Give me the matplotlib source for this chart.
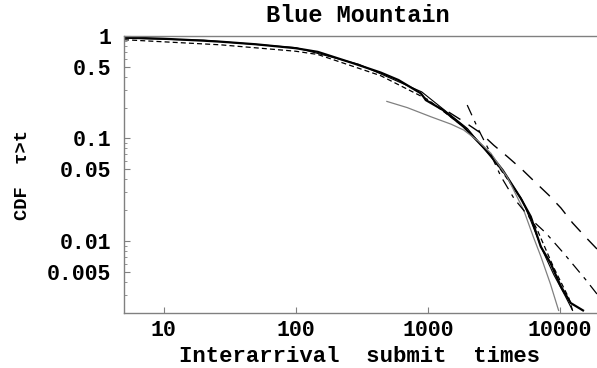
import matplotlib
matplotlib.use("Agg")
import matplotlib.pyplot as plt
from matplotlib.ticker import FixedLocator, NullFormatter

emp_solid_x = [5, 10, 20, 27, 50, 100, 147, 275, 440, 600, 885, 940, 966, 1300,
               1870, 3000, 3700, 5070, 6030, 7180, 8500, 10200, 12100, 15000]
emp_solid_y = [0.97, 0.94, 0.90, 0.88, 0.83, 0.76, 0.70, 0.54, 0.44, 0.372, 0.276,
               0.25, 0.237, 0.19, 0.13, 0.069, 0.049, 0.026, 0.0173, 0.0088, 0.0061,
               0.0036, 0.00248, 0.0021]

emp_dash_x = [5, 27, 100, 147, 440, 1000, 2000, 3000, 5000, 6760, 9000, 11700, 12500]
emp_dash_y = [0.92, 0.82, 0.71, 0.66, 0.41, 0.24, 0.122, 0.068, 0.027, 0.0128,
              0.0055, 0.00278, 0.0021]

emp_thin_x = [5, 20, 100, 300, 900, 2000, 4000, 5200, 6000, 7500, 9000, 11000, 12500]
emp_thin_y = [0.95, 0.91, 0.77, 0.53, 0.285, 0.125, 0.042, 0.025, 0.016, 0.0078,
              0.0047, 0.0029, 0.0021]

# fitted curves
fit_gray_x = [490, 700, 1055, 1500, 1870, 2400, 3000, 4000, 5330, 6300, 7180, 8500, 9800]
fit_gray_y = [0.23, 0.20, 0.163, 0.138, 0.121, 0.095, 0.072, 0.042, 0.020, 0.011,
              0.0071, 0.0038, 0.0021]

fit_long_x = [1440, 1940, 2520, 3160, 4040, 5250, 6580, 8260, 10200, 12500, 15700, 19400]
fit_long_y = [0.181, 0.142, 0.113, 0.086, 0.066, 0.049, 0.037, 0.028, 0.021, 0.015,
              0.0109, 0.0082]

fit_dd_x = [1990, 2400, 2850, 3570, 4500, 6000, 7830, 10700, 15700, 19400]
fit_dd_y = [0.212, 0.125, 0.081, 0.043, 0.026, 0.0165, 0.012, 0.0076, 0.0042, 0.00297]

major_y = [1, 0.5, 0.1, 0.05, 0.01, 0.005]
major_y_labels = ["1", "0.5", "0.1", "0.05", "0.01", "0.005"]
major_x = [10, 100, 1000, 10000]
major_x_labels = ["10", "100", "1000", "10000"]

plt.rcParams['font.family'] = ['Liberation Mono', 'DejaVu Sans Mono']
plt.rcParams['font.weight'] = 'bold'

fig = plt.figure(figsize=(5.97, 3.68), dpi=100)
ax = fig.add_axes([124 / 597, 1 - 312.6 / 368, 475.5 / 597, 276.6 / 368])
ax.set_xscale('log')
ax.set_yscale('log')

ax.plot(emp_solid_x, emp_solid_y, color='black', lw=1.6)
ax.plot(emp_thin_x, emp_thin_y, color='black', lw=0.8)
ax.plot(emp_dash_x, emp_dash_y, color='black', lw=0.9, dashes=(4, 2.5))
ax.plot(fit_gray_x, fit_gray_y, color='#808080', lw=0.9)
ax.plot(fit_long_x, fit_long_y, color='black', lw=1.0, dashes=(10, 7))
ax.plot(fit_dd_x, fit_dd_y, color='black', lw=0.9, dashes=(9, 5, 3, 5))

ax.set_xlim(5, 20000)
ax.set_ylim(0.002, 1)

ax.yaxis.set_major_locator(FixedLocator(major_y))
ax.set_yticklabels(major_y_labels)
minor_y = [m * d for d in (0.001, 0.01, 0.1) for m in range(2, 10)]
ax.yaxis.set_minor_locator(FixedLocator(minor_y))
ax.yaxis.set_minor_formatter(NullFormatter())
ax.xaxis.set_major_locator(FixedLocator(major_x))
ax.set_xticklabels(major_x_labels)
ax.xaxis.set_minor_locator(FixedLocator([]))

ax.tick_params(which='major', direction='in', length=4, width=0.8, color='#808080',
               labelsize=15.5)
ax.tick_params(axis='y', which='major', pad=9)
ax.tick_params(axis='x', which='major', pad=5)
ax.tick_params(which='minor', direction='in', length=2, width=0.6, color='#808080')
for lab in ax.get_xticklabels() + ax.get_yticklabels():
    lab.set_fontweight('bold')

for s in ax.spines.values():
    s.set_color('#808080')
    s.set_linewidth(1.0)

fig.text(358 / 597, 1 - 16 / 368, 'Blue Mountain', ha='center', va='center',
         fontsize=17, fontweight='bold')
fig.text(360 / 597, 1 - 356 / 368, 'Interarrival  submit  times', ha='center',
         va='center', fontsize=16, fontweight='bold')
fig.text(23 / 597, 1 - 175 / 368, 'CDF  \u03c4>t', ha='center', va='center',
         rotation=90, fontsize=13.5, fontweight='bold')

fig.savefig('out.png', dpi=100)
